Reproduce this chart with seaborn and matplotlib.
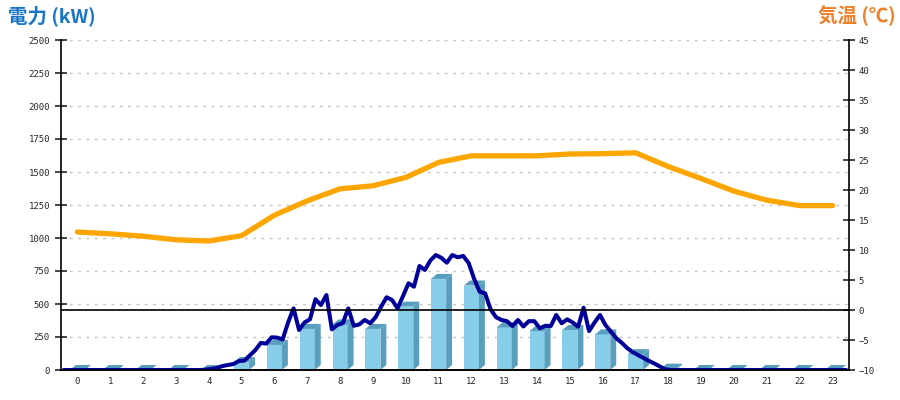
import numpy as np
import matplotlib.pyplot as plt
import seaborn as sns
from matplotlib.patches import Polygon

# hourly bars (kW) and temperature (C)
hours = list(range(24))
bar_kw = [0, 0, 0, 0, 0, 60, 190, 311, 345, 311, 480, 690,
          640, 323, 295, 303, 270, 120, 10, 0, 0, 0, 0, 0]
temp_c = [13.0, 12.7, 12.3, 11.7, 11.5, 12.4, 15.8, 18.2, 20.2, 20.7, 22.1, 24.6,
          25.7, 25.7, 25.7, 26.0, 26.05, 26.2, 23.9, 21.9, 19.8, 18.3, 17.4, 17.4]

# 10-minute power readings (kW), 144 per day
power_10min = [
    0, 0, 0, 0, 0, 0, 0, 0, 0, 0, 0, 0,
    0, 0, 0, 0, 0, 0, 0, 0, 0, 0, 0, 0,
    0, 0, 3, 8, 15, 30, 38, 45, 68, 71, 110, 150,
    205, 200, 248, 245, 232, 360, 467, 303, 360, 384, 536, 492,
    568, 308, 341, 355, 467, 335, 345, 379, 354, 400, 480, 551,
    530, 467, 560, 657, 631, 788, 758, 830, 871, 850, 813, 871,
    854, 864, 810, 690, 593, 581, 460, 400, 379, 370, 333, 379,
    330, 370, 370, 316, 335, 333, 417, 354, 384, 360, 328, 472,
    295, 360, 417, 340, 290, 240, 205, 165, 135, 112, 90, 68,
    48, 25, 5, 0, 0, 0, 0, 0, 0, 0, 0, 0,
    0, 0, 0, 0, 0, 0, 0, 0, 0, 0, 0, 0,
    0, 0, 0, 0, 0, 0, 0, 0, 0, 0, 0, 0,
]
minutes = np.arange(len(power_10min)) * 10 + 5
line_x = minutes / 60 - 0.5

sns.set_style("white")
plt.rcParams["font.family"] = ["DejaVu Sans"]

FRONT = "#87CDE9"
SIDE = "#5A9EBD"

fig = plt.figure(figsize=(9, 4), dpi=100)
ax = fig.add_axes([61 / 900, 30 / 400, 788 / 900, 330 / 400])

sns.barplot(x=hours, y=bar_kw, ax=ax, color=FRONT, width=0.46,
            saturation=1, linewidth=0, zorder=2)

# fake 3D: side and top faces
depth_x = 0.18
depth_y = 38
for p in list(ax.patches):
    x0 = p.get_x()
    w = p.get_width()
    h = p.get_height()
    side = Polygon([(x0 + w, 0), (x0 + w + depth_x, depth_y),
                    (x0 + w + depth_x, h + depth_y), (x0 + w, h)],
                   closed=True, facecolor=SIDE, edgecolor="none", zorder=2)
    top = Polygon([(x0, h), (x0 + w, h), (x0 + w + depth_x, h + depth_y),
                   (x0 + depth_x, h + depth_y)],
                  closed=True, facecolor=SIDE, edgecolor="none", zorder=2)
    ax.add_patch(side)
    ax.add_patch(top)

sns.lineplot(x=line_x, y=power_10min, ax=ax, color="#000099", linewidth=2.9,
             zorder=4)

ax.set_xlim(-0.5, 23.5)
ax.set_ylim(0, 2500)
ax.set_yticks(range(0, 2501, 250))
ax.set_xticks(hours)
ax.set_xticklabels([str(h) for h in hours])
ax.yaxis.grid(True, linestyle=(0, (2, 4)), color="#C4C4C4", linewidth=1)
ax.set_axisbelow(True)
ax.set_xlabel("")
ax.set_ylabel("")

ax2 = ax.twinx()
sns.lineplot(x=hours, y=temp_c, ax=ax2, color="#FFA500", linewidth=3.8)
ax2.axhline(0, color="black", linewidth=1.2, zorder=1)
ax2.set_ylim(-10, 45)
ax2.set_yticks(range(-10, 46, 5))
ax2.set_ylabel("")
ax2.set_xlim(-0.5, 23.5)

for a in (ax, ax2):
    a.spines["top"].set_visible(False)
    a.spines["bottom"].set_color("black")
    a.spines["bottom"].set_linewidth(1.2)
ax.spines["right"].set_visible(False)
ax.spines["left"].set_color("black")
ax.spines["left"].set_linewidth(1.2)
ax2.spines["left"].set_visible(False)
ax2.spines["right"].set_color("black")
ax2.spines["right"].set_linewidth(1.2)

ax.tick_params(axis="y", direction="inout", length=8, width=1.2, pad=4)
ax.tick_params(axis="x", length=0, pad=5)
ax2.tick_params(axis="y", direction="inout", length=8, width=1.2, pad=3)
for lab in ax.get_xticklabels() + ax.get_yticklabels() + ax2.get_yticklabels():
    lab.set_fontfamily("DejaVu Sans Mono")
    lab.set_fontsize(6.5)

fig.text(0.009, 0.96, "電力 (kW)", color="#1B75C5", fontsize=14,
         fontweight="bold", va="center", ha="left",
         family=["Noto Sans CJK JP", "DejaVu Sans"])
fig.text(0.995, 0.96, "気温 (℃)", color="#F07F2A", fontsize=14,
         fontweight="bold", va="center", ha="right",
         family=["Noto Sans CJK JP", "DejaVu Sans"])

fig.savefig("out.png", dpi=100)
